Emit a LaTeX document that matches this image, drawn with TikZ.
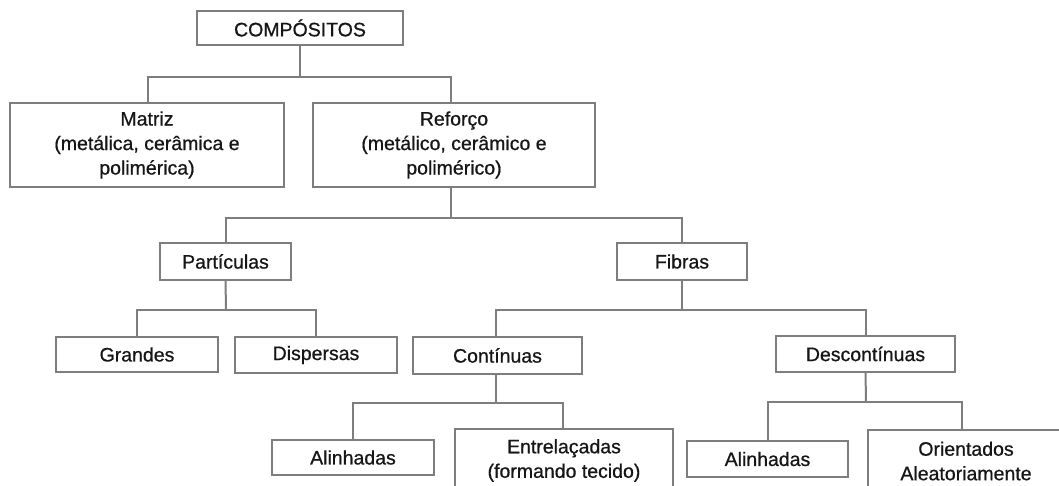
\documentclass[tikz,border=0pt]{standalone}
\usepackage{fontspec}
\setmainfont{Liberation Sans}
\newfontfamily\boxfont{Liberation Sans}[FakeBold=0.7]
\definecolor{linegray}{HTML}{7E7E7E}
\definecolor{txt}{HTML}{161616}
\begin{document}
\begin{tikzpicture}[x=1pt,y=-1pt,
  box/.style={draw=linegray, line width=2pt, fill=white, rectangle, inner sep=0pt, outer sep=0pt,
    align=center, text=txt, font=\boxfont\fontsize{19.5}{24.5}\selectfont},
  conn/.style={draw=linegray, line width=2pt}]
\useasboundingbox (0,0) rectangle (1059,486);
\fill[white] (0,0) rectangle (1059,486);
\clip (0,0) rectangle (1059,486);
% nodes
\node[box, minimum width=206pt, minimum height=34pt] (comp) at (300,28) {COMPÓSITOS};
\node[box, minimum width=274pt, minimum height=84pt] (matriz) at (147,145) {Matriz\\(metálica, cerâmica e\\polimérica)};
\node[box, minimum width=282pt, minimum height=84pt] (reforco) at (454,145) {Reforço\\(metálico, cerâmico e\\polimérico)};
\node[box, minimum width=131pt, minimum height=37pt] (part) at (225.5,261.5) {Partículas};
\node[box, minimum width=130pt, minimum height=37pt] (fibras) at (682,261.5) {Fibras};
\node[box, minimum width=162pt, minimum height=35pt] (grandes) at (137,354.5) {Grandes};
\node[box, minimum width=162pt, minimum height=36pt] (disp) at (316,355) {Dispersas};
\node[box, minimum width=169pt, minimum height=37pt] (cont) at (497.5,355.5) {Contínuas};
\node[box, minimum width=179pt, minimum height=36pt] (desc) at (865.5,354) {Descontínuas};
\node[box, minimum width=162pt, minimum height=35pt] (alin1) at (353,457.5) {Alinhadas};
\node[box, minimum width=218pt, minimum height=63pt] (entre) at (564,460.5) {Entrelaçadas\\(formando tecido)};
\node[box, minimum width=161pt, minimum height=36pt] (alin2) at (767.5,459) {Alinhadas};
\node[box, minimum width=196pt, minimum height=62pt] (orient) at (966,461) {Orientados\\Aleatoriamente};
% bus coordinates
\coordinate (b1) at (300,77);
\coordinate (b2) at (451,218);
\coordinate (b3) at (226,310);
\coordinate (b4) at (682,310);
\coordinate (b5) at (496,403);
\coordinate (b6) at (866,402);
% connectors
\draw[conn] (comp.south) -- (b1);
\draw[conn] ([xshift=1pt]matriz.north) |- (b1) -| ([xshift=-3pt]reforco.north);
\draw[conn] ([xshift=-3pt]reforco.south) -- (b2);
\draw[conn] (part.north) |- (b2) -| (fibras.north);
\draw[conn] (part.south) -- (b3);
\draw[conn] (grandes.north) |- (b3) -| (disp.north);
\draw[conn] (fibras.south) -- (b4);
\draw[conn] ([xshift=-1.5pt]cont.north) |- (b4) -| (desc.north);
\draw[conn] ([xshift=-1.5pt]cont.south) -- (b5);
\draw[conn] (alin1.north) |- (b5) -| ([xshift=-1pt]entre.north);
\draw[conn] (desc.south) -- (b6);
\draw[conn] (alin2.north) |- (b6) -| ([xshift=-4pt]orient.north);
\end{tikzpicture}
\end{document}
